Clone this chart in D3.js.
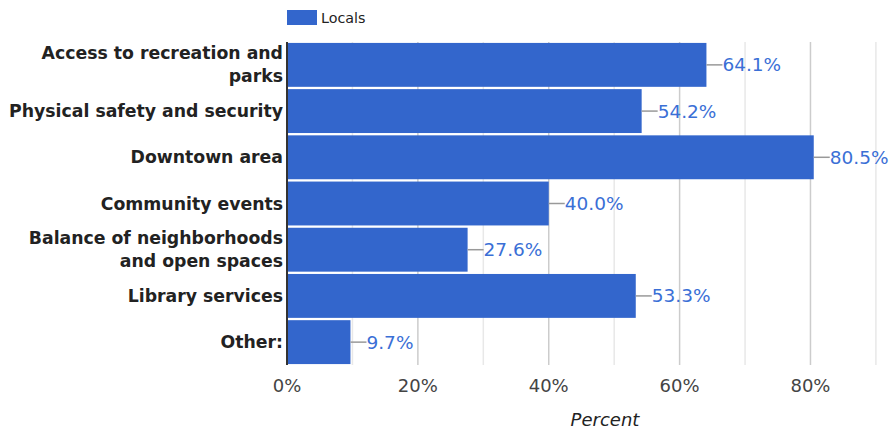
<!DOCTYPE html>
<html>
<head>
<meta charset="utf-8">
<script src="https://cdn.jsdelivr.net/npm/d3@7"></script>
<style>
  body { margin: 0; background: #fff; }
  text { font-family: "DejaVu Sans", sans-serif; }
</style>
</head>
<body>
<div id="chart"></div>
<script>
const categories = [
  ["Access to recreation and", "parks"],
  ["Physical safety and security"],
  ["Downtown area"],
  ["Community events"],
  ["Balance of neighborhoods", "and open spaces"],
  ["Library services"],
  ["Other:"]
];
const values = [64.1, 54.2, 80.5, 40.0, 27.6, 53.3, 9.7];
const seriesName = "Locals";
const majorTicks = [0, 20, 40, 60, 80];
const minorTicks = [10, 30, 50, 70, 90];

const W = 889, H = 429;
const margin = {top: 42, right: 0, bottom: 64, left: 287};
const width = W - margin.left - margin.right;
const height = H - margin.top - margin.bottom;
const color = "#3366cc";

const svg = d3.select("#chart").append("svg")
  .attr("width", W).attr("height", H);

const g = svg.append("g").attr("transform", `translate(${margin.left},${margin.top})`);

const x = d3.scaleLinear().domain([0, 92]).range([0, width]);
const y = d3.scaleBand().domain(d3.range(values.length)).range([0, height]).paddingInner(0.05).paddingOuter(0.02);

// grid
g.selectAll(".minor").data(minorTicks).join("line")
  .attr("x1", d => x(d)).attr("x2", d => x(d))
  .attr("y1", 0).attr("y2", height)
  .attr("stroke", "#e8e8e8").attr("stroke-width", 1.5);
g.selectAll(".major").data(majorTicks.slice(1)).join("line")
  .attr("x1", d => x(d)).attr("x2", d => x(d))
  .attr("y1", 0).attr("y2", height)
  .attr("stroke", "#cccccc").attr("stroke-width", 1.5);

// bars
g.selectAll("rect.bar").data(values).join("rect")
  .attr("class", "bar")
  .attr("x", 0)
  .attr("y", (d, i) => y(i))
  .attr("width", d => x(d))
  .attr("height", y.bandwidth())
  .attr("fill", color);

// leader lines + labels
g.selectAll("line.lead").data(values).join("line")
  .attr("x1", d => x(d)).attr("x2", d => x(d) + 16)
  .attr("y1", (d, i) => y(i) + y.bandwidth() / 2)
  .attr("y2", (d, i) => y(i) + y.bandwidth() / 2)
  .attr("stroke", "#999").attr("stroke-width", 1.5);
g.selectAll("text.val").data(values).join("text")
  .attr("x", d => x(d) + 16)
  .attr("y", (d, i) => y(i) + y.bandwidth() / 2)
  .attr("dy", "0.35em")
  .attr("font-size", 18.5)
  .attr("fill", "#3a6fd6")
  .text(d => d.toFixed(1) + "%");

// y axis line
g.append("line")
  .attr("x1", 0).attr("x2", 0).attr("y1", 0).attr("y2", height)
  .attr("stroke", "#333").attr("stroke-width", 2);

// category labels
const cat = g.selectAll("text.cat").data(categories).join("text")
  .attr("text-anchor", "end")
  .attr("font-size", 17.3)
  .attr("font-weight", "bold")
  .attr("fill", "#222");
cat.each(function(lines, i) {
  const t = d3.select(this);
  const cy = y(i) + y.bandwidth() / 2;
  const lh = 23;
  lines.forEach((l, k) => {
    t.append("tspan")
      .attr("x", -4)
      .attr("y", cy + (k - (lines.length - 1) / 2) * lh)
      .attr("dy", "0.35em")
      .text(l);
  });
});

// x tick labels
g.selectAll("text.tick").data(majorTicks).join("text")
  .attr("x", d => x(d))
  .attr("y", height + 27)
  .attr("text-anchor", "middle")
  .attr("font-size", 18)
  .attr("fill", "#444")
  .text(d => d + "%");

// axis title
svg.append("text")
  .attr("x", 605).attr("y", 426)
  .attr("text-anchor", "middle")
  .attr("font-size", 18)
  .attr("font-style", "italic")
  .attr("fill", "#222")
  .text("Percent");

// legend
svg.append("rect").attr("x", 287).attr("y", 10).attr("width", 30).attr("height", 15).attr("fill", color);
svg.append("text").attr("x", 321).attr("y", 17.5).attr("dy", "0.35em")
  .attr("font-size", 14.3).attr("fill", "#222").text(seriesName);
</script>
</body>
</html>
